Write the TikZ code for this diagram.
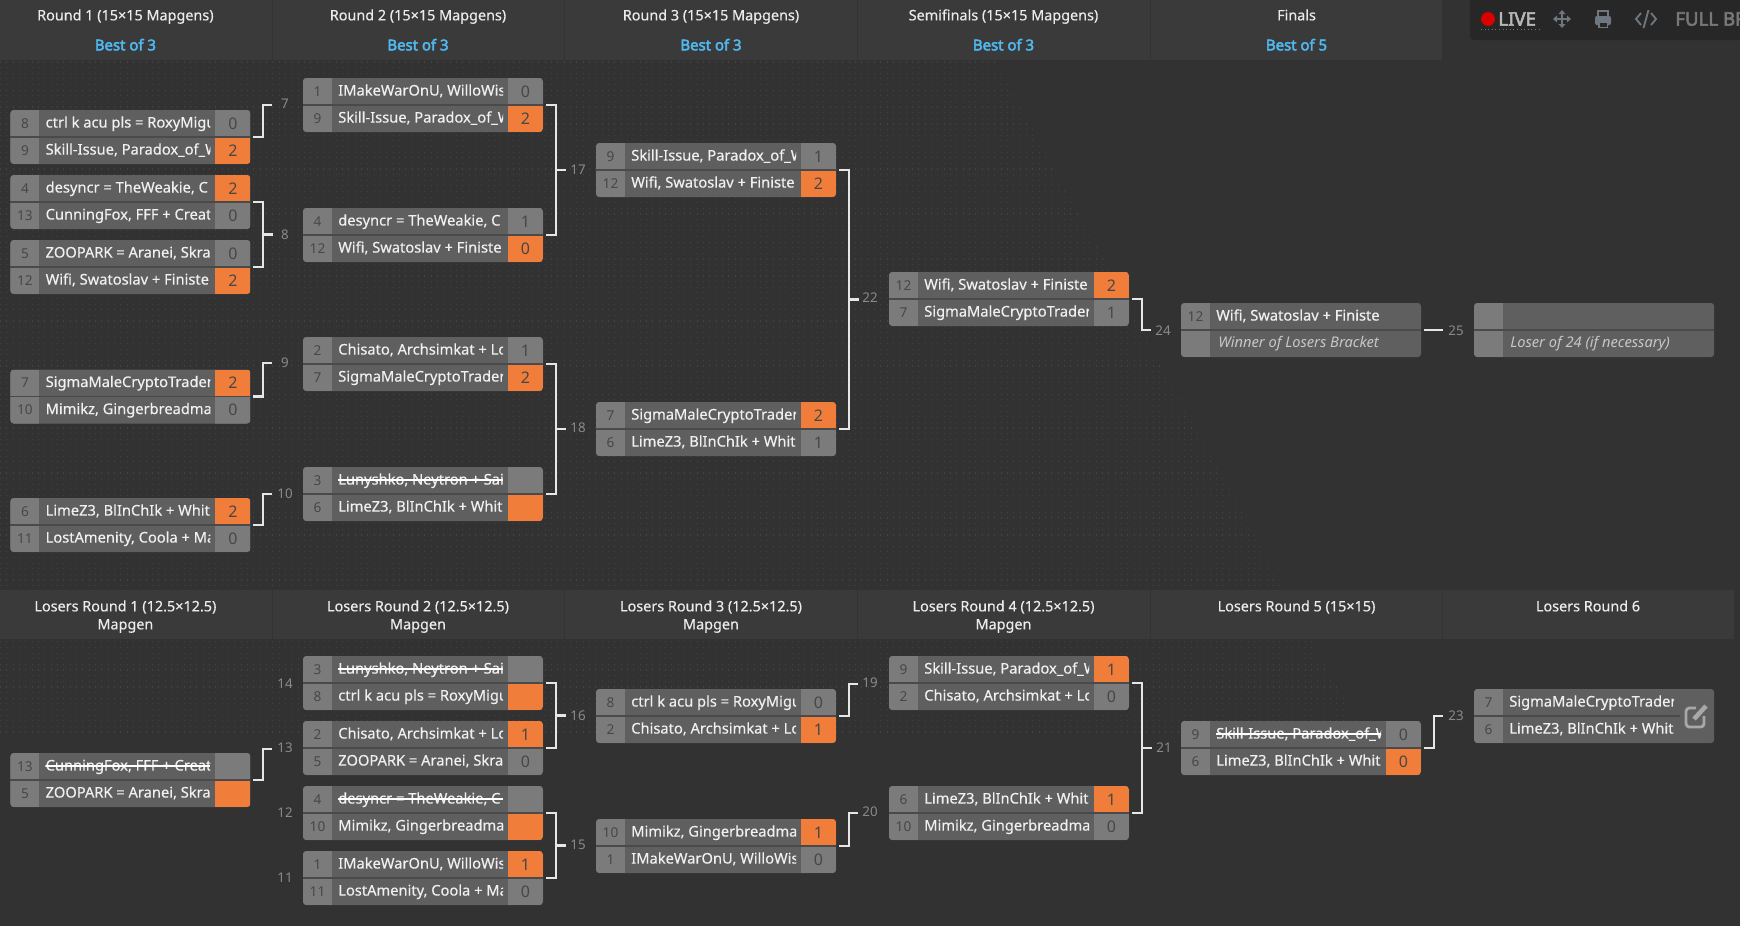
\documentclass[tikz,border=0pt]{standalone}
\usepackage{fontspec}
\setmainfont{Noto Sans}
\newfontfamily\medf[FakeBold=0.4]{Noto Sans}
\newfontfamily\boldf[FakeBold=3]{Noto Sans}
\usetikzlibrary{calc}
\definecolor{pagebg}{HTML}{323232}
\definecolor{dotc}{HTML}{424242}
\definecolor{headbg}{HTML}{3A3A3A}
\definecolor{headln}{HTML}{333333}
\definecolor{seedf}{HTML}{7B7B7B}
\definecolor{namef}{HTML}{5F5F5F}
\definecolor{orangef}{HTML}{F07D3A}
\definecolor{dividerc}{HTML}{4A4A4A}
\definecolor{bestc}{HTML}{4FB8F0}
\definecolor{labelc}{HTML}{8A8A8A}
\definecolor{connc}{HTML}{E6E6E6}
\definecolor{toolbg}{HTML}{272727}
\definecolor{toolic}{HTML}{6E7780}
\tikzset{
  x=0.75pt,y=-0.75pt,
  matchbg/.style={draw=none,fill=namef,minimum width=180pt,minimum height=40.5pt,inner sep=0pt,outer sep=0pt,rounded corners=2.5pt},
  seedtxt/.style={inner sep=0pt,text height=7.2pt,text depth=0pt,text=black!72,font=\fontsize{10.2pt}{12pt}\selectfont},
  scoretxt/.style={inner sep=0pt,text height=8.4pt,text depth=0pt,text=black!72,font=\fontsize{12pt}{14pt}\selectfont},
  teamtxt/.style={inner sep=0pt,anchor=west,text height=6.8pt,text depth=0pt,text=white!94!black,font=\medf\fontsize{11pt}{13pt}\selectfont},
  subtxt/.style={inner sep=0pt,anchor=west,text height=6.8pt,text depth=0pt,text=white!78!black,font=\fontsize{11pt}{13pt}\selectfont\itshape},
  headtxt/.style={inner sep=0pt,text height=8pt,text depth=0pt,text=white!92!black,font=\medf\fontsize{10.8pt}{13pt}\selectfont},
  besttxt/.style={inner sep=0pt,text height=8pt,text depth=0pt,text=bestc,font=\boldf\fontsize{11.2pt}{13pt}\selectfont},
  labtxt/.style={inner sep=0pt,text=labelc,font=\fontsize{10pt}{12pt}\selectfont},
  conn/.style={draw=connc,line width=1.6pt,line join=miter},
  dotrow/.style={draw=dotc,line width=0.85pt,dash pattern=on 0.85pt off 3.9pt},
  fw/.style={fill=orangef},fl/.style={fill=seedf},fn/.style={fill=namef},
  toolt/.style={inner sep=0pt,anchor=west,font=\boldf\fontsize{14pt}{16pt}\selectfont},
}
% one match box
\newcommand{\bmatch}[4][240]{\def\curid{#2}\def\mx{#3}\def\my{#4}\def\divw{#1}%
  \node[matchbg] (#2) at (#3+120,#4+27) {};}
% one row: row number, seed, text, score, fill style, strike 0/1
\newcommand{\trow}[6]{%
  \pgfmathsetmacro{\yo}{\my+(#1-1)*27}%
  \begin{scope}
    \clip[rounded corners=2.5pt] (\mx,\my) rectangle ++(240,54);
    \fill[seedf] (\mx,\yo) rectangle ++(29,27);
    \fill[#5] (\mx+205,\yo) rectangle ++(35,27);
  \end{scope}
  \def\tmp{#2}\ifx\tmp\empty\else\node[seedtxt] (\curid-s#1) at (\mx+14.5,\yo+13.5) {#2};\fi
  \def\tmp{#4}\ifx\tmp\empty\else\node[scoretxt] (\curid-r#1) at (\mx+222.5,\yo+13.5) {#4};\fi
  \def\tmp{#3}\ifx\tmp\empty\else
  \begin{scope}
    \clip (\mx+35,\yo) rectangle (\mx+200,\yo+27);
    \node[teamtxt] (\curid-t#1) at (\mx+35,\yo+13) {#3};
    \ifnum#6=1 \fill[white] (\mx+35,\yo+12.2) rectangle (\mx+200,\yo+13.8);\fi
  \end{scope}\fi
}
\newcommand{\mdiv}{\draw[dividerc,line width=1.3pt] (\mx,\my+27) -- ++(\divw,0);}
\newcommand{\brk}[6]{% a b name label lx ly
  \draw[conn] ([xshift=2.25pt]#1.east) -- ++(10,0) |- ([xshift=2.25pt]#2.east);
  \coordinate (st#3) at ($(#1.east)!0.5!(#2.east)+(12.5,0)$);
  \coordinate (en#3) at ($(#1.east)!0.5!(#2.east)+(22.5,0)$);
  \draw[conn] (st#3) -- (en#3);
  \node[labtxt] (l#3) at (#5,#6) {#4};
}
\newcommand{\one}[6]{% match name jx jy label lx ly
  \coordinate (j#4) at (#2,#3);
  \draw[conn] ([xshift=2.25pt]#1.east) -- ++(10,0) |- (j#4);
  \node[labtxt] (l#4) at (#5,#6) {#4};
}
\begin{document}
\begin{tikzpicture}
\useasboundingbox (0,0) rectangle (1740,926);
\fill[pagebg] (0,0) rectangle (1740,926);
% dotted texture
\begin{scope}
  \clip (0,60) -- (995,60) -- (1365,737) -- (0,737) -- cycle;
  \foreach \k in {0,...,120} { \draw[dotrow] (0,62+\k*5.63) -- (1400,62+\k*5.63); }
\end{scope}
% top headers
\fill[headbg] (0,0) rectangle (1442,60);
\foreach \xx in {272,564,857,1150} \draw[headln,line width=0.75pt] (\xx,0) -- (\xx,60);
\node[headtxt] (ht1) at (125.4,15) {Round 1 (15×15 Mapgens)};
\node[headtxt] (ht2) at (418,15) {Round 2 (15×15 Mapgens)};
\node[headtxt] (ht3) at (711,15) {Round 3 (15×15 Mapgens)};
\node[headtxt] (ht4) at (1003.5,15) {Semifinals (15×15 Mapgens)};
\node[headtxt] (ht5) at (1296.5,15) {Finals};
\node[besttxt] (hb1) at (125.4,45) {Best of 3};
\node[besttxt] (hb2) at (418,45) {Best of 3};
\node[besttxt] (hb3) at (711,45) {Best of 3};
\node[besttxt] (hb4) at (1003.5,45) {Best of 3};
\node[besttxt] (hb5) at (1296.5,45) {Best of 5};
% lower headers
\fill[headbg] (0,590) rectangle (1734,639);
\foreach \xx in {272,564,857,1150,1442} \draw[headln,line width=0.75pt] (\xx,590) -- (\xx,639);
\node[headtxt] (lh1) at (125.4,606) {Losers Round 1 (12.5×12.5)};
\node[headtxt] (lm1) at (125.4,624) {Mapgen};
\node[headtxt] (lh2) at (418,606) {Losers Round 2 (12.5×12.5)};
\node[headtxt] (lm2) at (418,624) {Mapgen};
\node[headtxt] (lh3) at (711,606) {Losers Round 3 (12.5×12.5)};
\node[headtxt] (lm3) at (711,624) {Mapgen};
\node[headtxt] (lh4) at (1003.5,606) {Losers Round 4 (12.5×12.5)};
\node[headtxt] (lm4) at (1003.5,624) {Mapgen};
\node[headtxt] (lh5) at (1296.5,606) {Losers Round 5 (15×15)};
\node[headtxt] (lh6) at (1588,606) {Losers Round 6};
% toolbar
\fill[toolbg,rounded corners=3pt] (1470,-10) rectangle (1750,40);
\fill[red!85!black] (1488,19) circle[radius=7];
\node[toolt,text=white!72!black] (live) at (1498,19) {LIVE};
\draw[white!45!black,line width=0.7pt,dotted] (1481,29) -- (1540,29);
\begin{scope}[shift={(1562,19)},toolic,line width=1.5pt]
  \draw (-8,0) -- (8,0) (0,-8) -- (0,8);
  \fill (-9,0) -- (-5,-3.5) -- (-5,3.5) -- cycle;
  \fill (9,0) -- (5,-3.5) -- (5,3.5) -- cycle;
  \fill (0,-9) -- (-3.5,-5) -- (3.5,-5) -- cycle;
  \fill (0,9) -- (-3.5,5) -- (3.5,5) -- cycle;
\end{scope}
\begin{scope}[shift={(1603,19)}]
  \fill[toolic,rounded corners=1.5pt] (-8,-3) rectangle (8,6);
  \draw[toolic,line width=1.3pt] (-5,-3) -- (-5,-8) -- (5,-8) -- (5,-3);
  \fill[toolic] (-5,3) rectangle (5,9);
  \fill[toolbg] (-3.5,4) rectangle (3.5,7.5);
\end{scope}
\begin{scope}[shift={(1646,19)},draw=toolic,line width=1.4pt]
  \draw (-5,-6) -- (-10,0) -- (-5,6);
  \draw (5,-6) -- (10,0) -- (5,6);
  \draw (2.5,-9) -- (-2.5,9);
\end{scope}
\begin{scope}
  \clip (1660,0) rectangle (1740,40);
  \node[toolt,text=white!47!black] (fullbr) at (1675,19) {FULL BR};
\end{scope}
% ---- winners bracket
\bmatch{a}{10.4}{110}
\trow{1}{8}{ctrl k acu pls = RoxyMigu}{0}{fl}{0}\trow{2}{9}{Skill-Issue, Paradox\_of\_W}{2}{fw}{0}\mdiv
\bmatch{b}{10.4}{175}
\trow{1}{4}{desyncr = TheWeakie, C}{2}{fw}{0}\trow{2}{13}{CunningFox, FFF + Creat}{0}{fl}{0}\mdiv
\bmatch{c}{10.4}{240}
\trow{1}{5}{ZOOPARK = Aranei, Skra}{0}{fl}{0}\trow{2}{12}{Wifi, Swatoslav + Finiste}{2}{fw}{0}\mdiv
\bmatch{d}{10.4}{369.5}
\trow{1}{7}{SigmaMaleCryptoTrader}{2}{fw}{0}\trow{2}{10}{Mimikz, Gingerbreadman}{0}{fl}{0}\mdiv
\bmatch{e}{10.4}{498}
\trow{1}{6}{LimeZ3, BlInChIk + White}{2}{fw}{0}\trow{2}{11}{LostAmenity, Coola + Ma}{0}{fl}{0}\mdiv
\bmatch{f}{303}{78}
\trow{1}{1}{IMakeWarOnU, WilloWisp}{0}{fl}{0}\trow{2}{9}{Skill-Issue, Paradox\_of\_W}{2}{fw}{0}\mdiv
\bmatch{g}{303}{208}
\trow{1}{4}{desyncr = TheWeakie, C}{1}{fl}{0}\trow{2}{12}{Wifi, Swatoslav + Finiste}{0}{fw}{0}\mdiv
\bmatch{h}{303}{337}
\trow{1}{2}{Chisato, Archsimkat + Lo}{1}{fl}{0}\trow{2}{7}{SigmaMaleCryptoTrader}{2}{fw}{0}\mdiv
\bmatch{i}{303}{467}
\trow{1}{3}{Lunyshko, Neytron + Sai}{}{fl}{1}\trow{2}{6}{LimeZ3, BlInChIk + White}{}{fw}{0}\mdiv
\bmatch{j}{596}{143}
\trow{1}{9}{Skill-Issue, Paradox\_of\_W}{1}{fl}{0}\trow{2}{12}{Wifi, Swatoslav + Finiste}{2}{fw}{0}\mdiv
\bmatch{k}{596}{402}
\trow{1}{7}{SigmaMaleCryptoTrader}{2}{fw}{0}\trow{2}{6}{LimeZ3, BlInChIk + White}{1}{fl}{0}\mdiv
\bmatch{l}{889}{272}
\trow{1}{12}{Wifi, Swatoslav + Finiste}{2}{fw}{0}\trow{2}{7}{SigmaMaleCryptoTrader}{1}{fl}{0}\mdiv
\bmatch{m}{1181}{303}
\trow{1}{12}{Wifi, Swatoslav + Finiste}{}{fn}{0}\trow{2}{}{}{}{fn}{0}\mdiv
\node[subtxt] (m-sub) at (1218,343) {Winner of Losers Bracket};
\bmatch{n}{1474}{303}
\trow{1}{}{}{}{fn}{0}\trow{2}{}{}{}{fn}{0}\mdiv
\node[subtxt] (n-sub) at (1510,343) {Loser of 24 (if necessary)};
% ---- losers bracket
\bmatch{o}{10.4}{753}
\trow{1}{13}{CunningFox, FFF + Creat}{}{fl}{1}\trow{2}{5}{ZOOPARK = Aranei, Skra}{}{fw}{0}\mdiv
\bmatch{p}{303}{656}
\trow{1}{3}{Lunyshko, Neytron + Sai}{}{fl}{1}\trow{2}{8}{ctrl k acu pls = RoxyMigu}{}{fw}{0}\mdiv
\bmatch{q}{303}{721}
\trow{1}{2}{Chisato, Archsimkat + Lo}{1}{fw}{0}\trow{2}{5}{ZOOPARK = Aranei, Skra}{0}{fl}{0}\mdiv
\bmatch{r}{303}{786}
\trow{1}{4}{desyncr = TheWeakie, C}{}{fl}{1}\trow{2}{10}{Mimikz, Gingerbreadman}{}{fw}{0}\mdiv
\bmatch{s}{303}{851}
\trow{1}{1}{IMakeWarOnU, WilloWisp}{1}{fw}{0}\trow{2}{11}{LostAmenity, Coola + Ma}{0}{fl}{0}\mdiv
\bmatch{t}{596}{689}
\trow{1}{8}{ctrl k acu pls = RoxyMigu}{0}{fl}{0}\trow{2}{2}{Chisato, Archsimkat + Lo}{1}{fw}{0}\mdiv
\bmatch{u}{596}{819}
\trow{1}{10}{Mimikz, Gingerbreadman}{1}{fw}{0}\trow{2}{1}{IMakeWarOnU, WilloWisp}{0}{fl}{0}\mdiv
\bmatch{v}{889}{656}
\trow{1}{9}{Skill-Issue, Paradox\_of\_W}{1}{fw}{0}\trow{2}{2}{Chisato, Archsimkat + Lo}{0}{fl}{0}\mdiv
\bmatch{w}{889}{786}
\trow{1}{6}{LimeZ3, BlInChIk + White}{1}{fw}{0}\trow{2}{10}{Mimikz, Gingerbreadman}{0}{fl}{0}\mdiv
\bmatch{y}{1181}{721}
\trow{1}{9}{Skill-Issue, Paradox\_of\_W}{0}{fl}{1}\trow{2}{6}{LimeZ3, BlInChIk + White}{0}{fw}{0}\mdiv
\bmatch[206]{z}{1474}{689}
\trow{1}{7}{SigmaMaleCryptoTrader}{}{fn}{0}\trow{2}{6}{LimeZ3, BlInChIk + White}{}{fn}{0}\mdiv
% edit icon
\begin{scope}[draw=white!66!black]
  \draw[line width=2.1pt,rounded corners=2.5pt] (1704,716) -- (1704,727) -- (1686,727) -- (1686,708) -- (1696,708);
  \draw[line width=3.4pt] (1694,719) -- (1706,706);
\end{scope}
% ---- connectors
\one{a}{272}{105}{7}{285}{104}
\brk{b}{c}{8}{8}{285}{235}
\one{d}{272}{363}{9}{285}{363}
\one{e}{272}{494}{10}{285}{494}
\brk{f}{g}{17}{17}{578}{170}
\brk{h}{i}{18}{18}{578}{428}
\brk{j}{k}{22}{22}{870}{298}
\one{l}{1151}{330}{24}{1163}{331}
\coordinate (j25) at (1443,330);
\draw[conn] ([xshift=2.25pt]m.east) -- (j25);
\node[labtxt] (l25) at (1456,331) {25};
\one{o}{272}{749}{13}{285}{748}
\node[labtxt] (l14) at (285,684) {14};
\node[labtxt] (l12) at (285,813) {12};
\node[labtxt] (l11) at (285,878) {11};
\brk{p}{q}{16}{16}{578}{716}
\brk{r}{s}{15}{15}{578}{845}
\one{t}{858}{684}{19}{870}{683}
\one{u}{858}{813}{20}{870}{812}
\brk{v}{w}{21}{21}{1164}{748}
\one{y}{1443}{716}{23}{1456}{716}
\end{tikzpicture}
\end{document}
